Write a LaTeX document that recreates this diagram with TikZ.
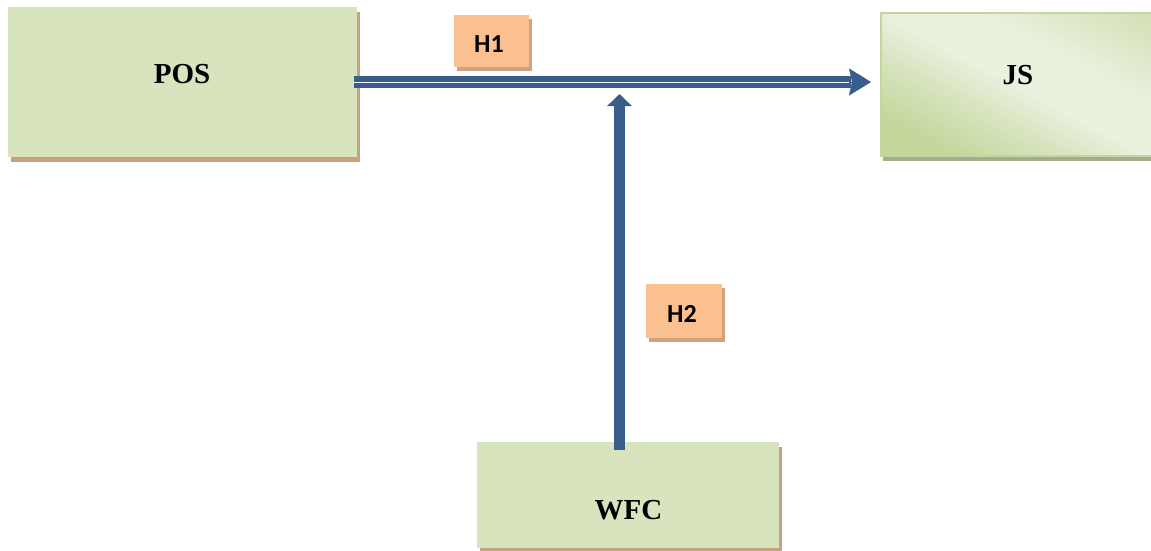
\documentclass[tikz,border=0pt]{standalone}
\usepackage{fontspec}
\newfontfamily\boxfont{Liberation Serif}
\newfontfamily\hfont{Carlito}
\usetikzlibrary{arrows.meta,shadows,calc}
\definecolor{boxgreen}{HTML}{D7E4BD}
\definecolor{brownshadow}{HTML}{C9A17F}
\definecolor{hfill}{HTML}{FAC090}
\definecolor{hshadow}{HTML}{CDA382}
\definecolor{arrowblue}{HTML}{3A5E8C}
\definecolor{jslight}{HTML}{EAF1DF}
\definecolor{jsdark}{HTML}{C3D69B}
\definecolor{jsshadow}{HTML}{A5AD91}
\pgfdeclarehorizontalshading{jsshade}{100bp}{color(0bp)=(jsdark);
  color(25bp)=(jsdark);
  color(40bp)=(jsdark!45!jslight);
  color(50bp)=(jslight);
  color(62bp)=(jslight);
  color(75bp)=(jsdark!40!jslight);
  color(100bp)=(jsdark)}
\begin{document}
\begin{tikzpicture}[x=1pt,y=-1pt,
  greenbox/.style={rectangle, inner sep=0pt, outer sep=0pt, fill=boxgreen,
    general shadow={fill=brownshadow, shadow xshift=3pt, shadow yshift=-5pt}},
  jsbox/.style={rectangle, inner sep=0pt, outer sep=0pt, draw=jsdark, line width=2pt,
    shading=jsshade, shading angle=62,
    general shadow={fill=jsshadow, shadow xshift=2pt, shadow yshift=-5pt}},
  hbox/.style={rectangle, inner sep=0pt, outer sep=0pt, fill=hfill,
    general shadow={fill=hshadow, shadow xshift=3pt, shadow yshift=-4pt}},
  boxtext/.style={font=\boxfont\bfseries\fontsize{29}{34}\selectfont, inner sep=0pt, anchor=base},
  htext/.style={font=\hfont\bfseries\fontsize{26}{30}\selectfont, inner sep=0pt, anchor=base},
  hshaft/.style={draw=arrowblue, line width=12pt, postaction={draw=white, line width=0.8pt}},
  headtip/.style={draw=arrowblue, fill=arrowblue, line width=0.1pt,
    -{Stealth[length=22pt, width=27pt, inset=3pt]}},
  vshaft/.style={draw=arrowblue, line width=11pt, -{Triangle[length=12pt, width=24pt]}}
]
\clip (0,0) rectangle (1151,550);
\fill[white] (0,0) rectangle (1151,550);

% boxes
\node[greenbox, minimum width=349pt, minimum height=150pt] (POS) at (182.5,82) {};
\node[jsbox, minimum width=272pt, minimum height=143pt] (JS) at (1017,84.5) {};
\node[greenbox, minimum width=302pt, minimum height=106pt] (WFC) at (628,495) {};
\node[hbox, minimum width=75pt, minimum height=52pt] (H1) at (491.5,41) {};
\node[hbox, minimum width=76pt, minimum height=54pt] (H2) at (684,311) {};

% texts
\node[boxtext] (POStxt) at (182,83) {POS};
\node[boxtext] (JStxt) at (1018,84) {JS};
\node[boxtext] (WFCtxt) at (628.5,519) {WFC};
\node[htext] (H1txt) at (489,52) {H1};
\node[htext] (H2txt) at (682,322) {H2};

% connector coordinates
\coordinate (htip) at (871,82);
\coordinate (hback) at (851,82);
\coordinate (vtip) at (619.5,94);

% horizontal double arrow POS -> JS
\draw[hshaft] ($(POS.east |- htip)+(-3,0)$) -- (hback);
\draw[headtip] ($(hback)+(-2,0)$) -- (htip);

% vertical arrow WFC -> horizontal arrow
\draw[vshaft] ($(vtip |- WFC.north)+(0,8)$) -- (vtip);
\end{tikzpicture}
\end{document}
